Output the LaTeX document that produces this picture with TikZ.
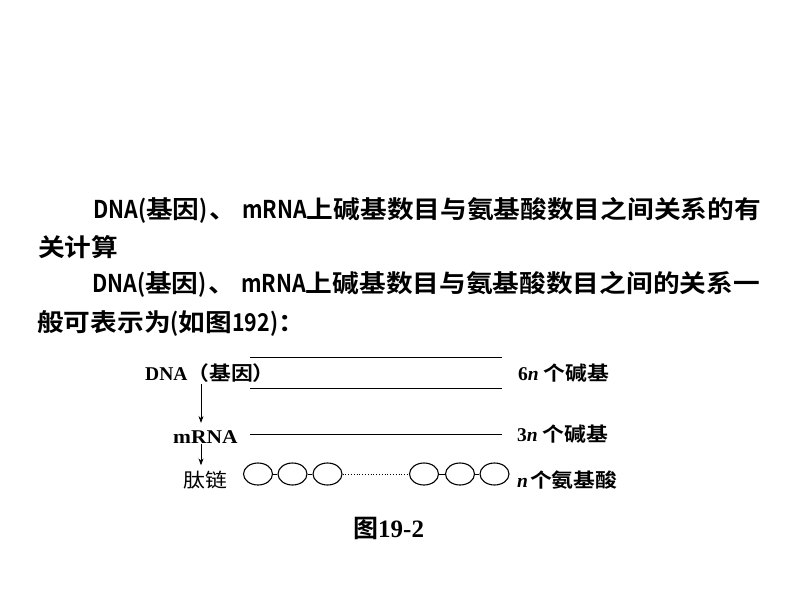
\documentclass[tikz,border=0pt]{standalone}
\usepackage{graphicx}
\usepackage{fontspec}
\usetikzlibrary{shapes.geometric,arrows.meta}
\newfontfamily\hei{Noto Sans CJK SC}[BoldFont={Noto Sans CJK SC Bold}]
\newfontfamily\cjk{Noto Sans CJK SC}[BoldFont={Noto Sans CJK SC Bold}]
\newfontfamily\tnr{Liberation Serif}
\newcommand\lat[1]{\scalebox{0.8}[1]{#1}}
\newcommand\wide[1]{\scalebox{1.09}[1]{#1}}
\newcommand\dcjk[1]{{\cjk\bfseries\scalebox{1.12}[1]{#1}}}
\newcommand\dcjkr[1]{{\cjk\mdseries\scalebox{1.12}[1]{#1}}}
\begin{document}
\begin{tikzpicture}[x=1pt,y=-1pt,
  para/.style={anchor=base west,inner sep=0pt,font=\hei\bfseries\fontsize{24.5}{30}\selectfont},
  lbl/.style={anchor=base west,inner sep=0pt,font=\fontsize{19.5}{22}\selectfont},
  bond/.style={draw,ellipse,minimum width=29pt,minimum height=22pt,inner sep=0pt,line width=1.1pt},
  strand/.style={line width=0.8pt},
  link/.style={line width=1pt},
  arr/.style={-{Stealth[length=7pt,width=5pt]},line width=0.8pt}]
\fill[white] (0,0) rectangle (800,600);
\useasboundingbox (0,0) rectangle (800,600);
% paragraph text
\node[para] (t1) at (93,218) {\wide{\lat{DNA(}基因\lat{)}\hspace{2pt}、\hspace{5pt}\lat{mRNA}上碱基数目与氨基酸数目之间关系的有}};
\node[para] (t2) at (38,256) {\wide{关计算}};
\node[para] (t3) at (92,292) {\wide{\lat{DNA(}基因\lat{)}\hspace{2pt}、\hspace{5pt}\lat{mRNA}上碱基数目与氨基酸数目之间的关系一}};
\node[para] (t4) at (37,331) {\wide{般可表示为\lat{(}如图\lat{192)}：}};
% diagram labels
\node[lbl] (dna) at (145,380) {\tnr\bfseries DNA\dcjk{（基因）}};
\node[lbl] (mrna) at (173,443) {\tnr\bfseries\scalebox{1.1}[1]{mRNA}};
\node[lbl] (tai) at (183,487) {\dcjkr{肽链}};
\node[lbl] (r1) at (518,380) {\tnr\bfseries 6\textit{n}\hspace{5pt}\dcjk{个碱基}};
\node[lbl] (r2) at (517,441.5) {\tnr\bfseries 3\textit{n}\hspace{5pt}\dcjk{个碱基}};
\node[lbl] (r3) at (517,487) {\tnr\bfseries\textit{n}\hspace{2pt}\dcjk{个氨基酸}};
% strands
\coordinate (a1) at (250,357); \coordinate (b1) at (502,357);
\coordinate (a2) at (250,388); \coordinate (b2) at (502,388);
\coordinate (a3) at (250,434); \coordinate (b3) at (502,434);
\draw[strand] (a1) -- (b1);
\draw[strand] (a2) -- (b2);
\draw[strand] (a3) -- (b3);
% arrows
\coordinate (ax) at (201,0);
\draw[arr,shorten <=2pt,shorten >=7pt] (dna.south -| ax) -- (mrna.north -| ax);
\draw[arr,shorten <=1pt,shorten >=5pt] (mrna.south -| ax) -- (tai.north -| ax);
% peptide chain
\node[bond] (e1) at (258,474) {};
\node[bond] (e2) at (292.5,474) {};
\node[bond] (e3) at (327.5,474) {};
\node[bond] (e4) at (424,474) {};
\node[bond] (e5) at (460,474) {};
\node[bond] (e6) at (494.5,474) {};
\draw[link] (e1) -- (e2);
\draw[link] (e2) -- (e3);
\draw[dotted,line width=0.8pt] (e3) -- (e4);
\draw[link] (e4) -- (e5);
\draw[link] (e5) -- (e6);
% caption
\node[anchor=base west,inner sep=0pt] (cap) at (353,537.5) {\fontsize{25}{28}\selectfont{\cjk\bfseries 图}{\tnr\bfseries 19-2}};
\end{tikzpicture}
\end{document}
